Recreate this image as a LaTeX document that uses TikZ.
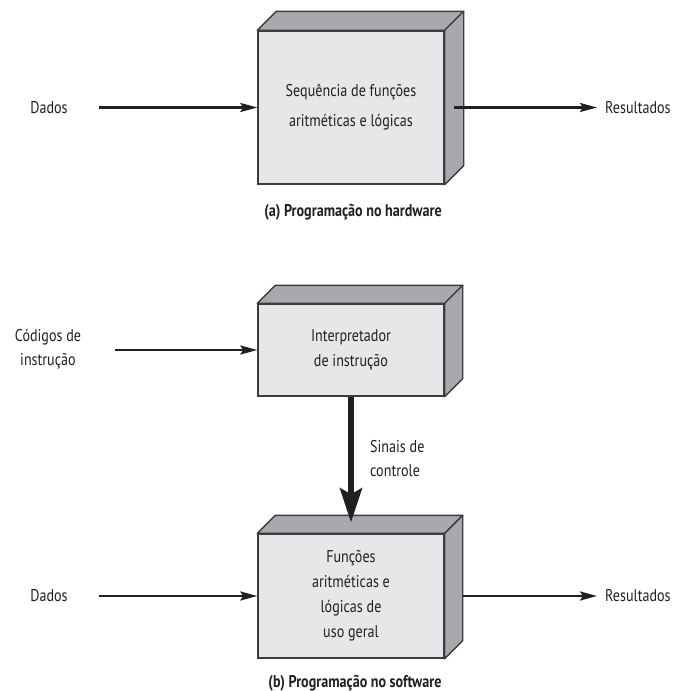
\documentclass[tikz,border=0pt]{standalone}
\usepackage{fontspec}
\setmainfont{PT Sans}[FakeStretch=0.83]
\usetikzlibrary{arrows.meta,calc}
\definecolor{facelight}{HTML}{E6E7E8}
\definecolor{facedark}{HTML}{A7A9AC}
\definecolor{edge}{HTML}{3C3C3E}
\definecolor{ink}{HTML}{231F20}

% top and right faces of a block whose front face is node #1, depth #2
\newcommand\boxfaces[2]{%
  \filldraw[sideface] (#1.north west) -- ++(#2,-#2) -- ($(#1.north east)+(#2,-#2)$) -- (#1.north east) -- cycle;
  \filldraw[sideface] (#1.north east) -- ++(#2,-#2) -- ($(#1.south east)+(#2,-#2)$) -- (#1.south east) -- cycle;
}

\begin{document}
\begin{tikzpicture}[x=1pt,y=-1pt,
  every node/.style={text=ink},
  front/.style={draw=edge, line width=1.4pt, fill=facelight, minimum width=186pt,
    inner sep=0pt, align=center},
  sideface/.style={draw=edge, line width=1.4pt, fill=facedark, line join=round},
  lbl/.style={inner sep=0pt, align=center, font=\fontsize{17}{24}\selectfont},
  captiontext/.style={inner sep=0pt, font=\bfseries\fontsize{17}{20}\selectfont},
  flow/.style={draw=ink, line width=2.5pt, -{Stealth[length=17pt,width=9pt,inset=3pt]}},
  ctrl/.style={draw=ink, line width=6pt, -{Stealth[length=34pt,width=22pt,inset=6pt]}}
]
\useasboundingbox (0,0) rectangle (676,691);

% ---------- (a) hardware ----------
\node[front, minimum height=153pt, font=\fontsize{17}{30}\selectfont] (hw) at (351,107.5)
  {Sequência de funções\\aritméticas e lógicas};
\boxfaces{hw}{19}

\node[lbl] (dadosA) at (49,107.5) {Dados};
\node[lbl, anchor=west] (resA) at (605,107.5) {Resultados};
\coordinate (inA) at (99,107.5);
\coordinate (outA) at ($(hw.east)+(9,0)$);
\coordinate (endA) at ($(resA.west)+(-8,0)$);
\draw[flow] (inA) -- (inA -| hw.west);
\draw[flow] (outA) -- (endA);

\node[captiontext] (capA) at (353,212) {(a) Programação no hardware};

% ---------- (b) software ----------
\node[front, minimum height=92pt, font=\fontsize{17}{25}\selectfont] (interp) at (351,350)
  {Interpretador\\de instrução};
\boxfaces{interp}{18}

\node[front, minimum height=124pt, font=\fontsize{17}{25}\selectfont] (alu) at (351,596)
  {Funções\\aritméticas e\\lógicas de\\uso geral};
\boxfaces{alu}{18}

\node[lbl] (cod) at (48,349) {Códigos de\\instrução};
\coordinate (inCod) at (115,350);
\draw[flow] (inCod) -- (inCod -| interp.west);

\coordinate (ctrlEnd) at ($(alu.north)+(0,-11)$);
\draw[ctrl] (interp.south) -- (ctrlEnd);
\node[lbl, anchor=west, align=left, font=\fontsize{17}{24}\selectfont] (sig) at (370,459)
  {Sinais de\\controle};

\node[lbl] (dadosB) at (49,596) {Dados};
\node[lbl, anchor=west] (resB) at (605,596) {Resultados};
\coordinate (inB) at (99,596);
\coordinate (outB) at ($(alu.east)+(18,0)$);
\coordinate (endB) at ($(resB.west)+(-8,0)$);
\draw[flow] (inB) -- (inB -| alu.west);
\draw[flow] (outB) -- (endB);

\node[captiontext] (capB) at (355,683) {(b) Programação no software};
\end{tikzpicture}
\end{document}
